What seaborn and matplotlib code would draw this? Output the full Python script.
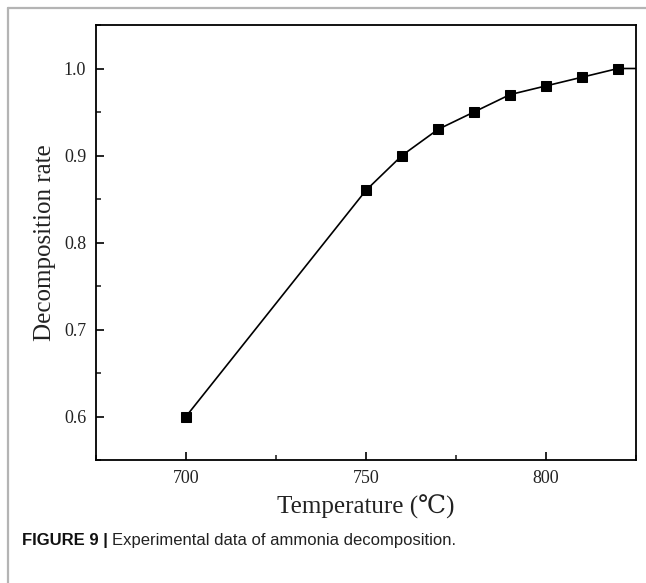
import matplotlib
matplotlib.use("Agg")
import matplotlib.pyplot as plt
from matplotlib.lines import Line2D
from matplotlib.ticker import MultipleLocator, FormatStrFormatter
import pandas as pd
import seaborn as sns

# Measured decomposition rate of ammonia versus reactor temperature
temperature_c = [700, 750, 760, 770, 780, 790, 800, 810, 820, 830]
decomposition_rate = [0.60, 0.86, 0.90, 0.93, 0.95, 0.97, 0.98, 0.99, 1.00, 1.00]

x_major_ticks = [700, 750, 800]
y_major_ticks = [0.6, 0.7, 0.8, 0.9, 1.0]

x_label = "Temperature (℃)"
y_label = "Decomposition rate"
caption_bold = "FIGURE 9 |"
caption_text = "Experimental data of ammonia decomposition."

df = pd.DataFrame({"T": temperature_c, "rate": decomposition_rate})

sns.set_style("ticks")
plt.rcParams["font.family"] = ["Liberation Serif", "DejaVu Serif", "DejaVu Sans"]

fig = plt.figure(figsize=(6.46, 5.83), dpi=100)
W, H = 646, 583
ax = fig.add_axes([96 / W, 1 - 460 / H, 540 / W, 435 / H])

sns.lineplot(data=df, x="T", y="rate", ax=ax, color="black", linewidth=1.2,
             marker="s", markersize=7, markeredgecolor="black",
             markerfacecolor="black", sort=False)

ax.set_xlim(675, 825)
ax.set_ylim(0.55, 1.05)
ax.set_xticks(x_major_ticks)
ax.set_yticks(y_major_ticks)
ax.xaxis.set_minor_locator(MultipleLocator(25))
ax.yaxis.set_minor_locator(MultipleLocator(0.05))
ax.yaxis.set_major_formatter(FormatStrFormatter("%.1f"))

ax.tick_params(axis="both", which="major", direction="in", length=6, width=1.2,
               labelsize=13, pad=7, colors="black", labelcolor="#222222")
ax.tick_params(axis="both", which="minor", direction="in", length=3.5, width=1.2)
for s in ax.spines.values():
    s.set_linewidth(1.3)
    s.set_color("black")

ax.set_xlabel(x_label, fontsize=18, color="#222222", labelpad=6)
ax.set_ylabel(y_label, fontsize=18, color="#222222", labelpad=6)

# Light frame around the figure panel
frame_kw = dict(color="#b4b4b4", linewidth=1.6, transform=fig.transFigure)
fig.add_artist(Line2D([8 / W, 8 / W], [0, 1 - 8 / H], **frame_kw))
fig.add_artist(Line2D([8 / W, 1], [1 - 8 / H, 1 - 8 / H], **frame_kw))

# Caption
cap_y = 1 - 541 / H
t1 = fig.text(22 / W, cap_y, caption_bold, fontsize=12, fontweight="bold",
              family=["Liberation Sans", "DejaVu Sans"], color="#111111", va="center")
fig.canvas.draw()
bb = t1.get_window_extent()
fig.text(bb.x1 / W + 4 / W, cap_y, caption_text, fontsize=12,
         family=["Liberation Sans", "DejaVu Sans"], color="#222222", va="center")

fig.savefig("out.png", dpi=100)
